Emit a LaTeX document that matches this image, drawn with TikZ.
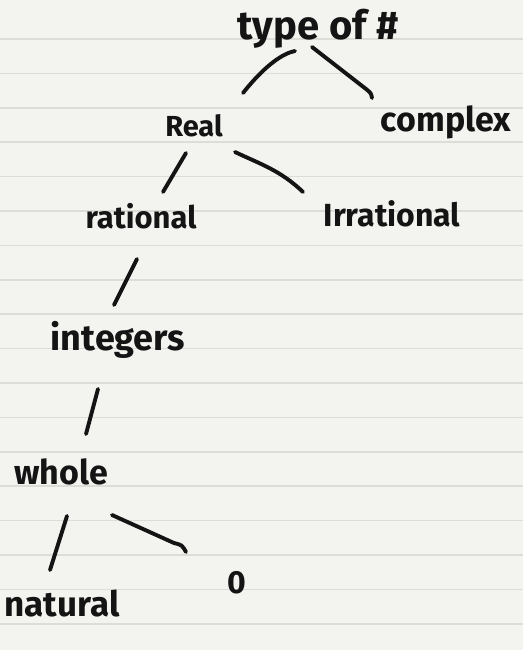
\documentclass[tikz,border=0pt]{standalone}
\usepackage{fontspec}
\setmainfont{Fira Sans}
\definecolor{paper}{HTML}{F3F3EF}
\definecolor{rule}{HTML}{DDDDD8}
\definecolor{ink}{HTML}{141414}
\newcommand{\fsz}[1]{\fontsize{#1}{#1}\selectfont\bfseries}
\tikzset{
  x=1pt, y=-1pt,
  word/.style={inner sep=0pt, text=ink},
  stroke/.style={draw=ink, line width=3.9pt, line cap=round, line join=round},
}
\begin{document}
\begin{tikzpicture}
\fill[paper] (0,0) rectangle (523,650);
\useasboundingbox (0,0) rectangle (523,650);
\foreach \i in {0,...,17} \draw[rule, line width=1.6pt] (0,39+34.4*\i) -- (523,39+34.4*\i);
% words
\node[word, font=\fsz{40}] (type) at (318,29) {type of \#};
\node[word, font=\fsz{29}] (real) at (194,126) {Real};
\node[word, font=\fsz{34}] (complex) at (446,122) {complex};
\node[word, font=\fsz{31}] (rational) at (141,216) {rational};
\node[word, font=\fsz{32}] (irrational) at (392,214) {Irrational};
\node[word, font=\fsz{36}] (integers) at (118,340) {integers};
\node[word, font=\fsz{34}] (whole) at (61,472) {whole};
\node[word, font=\fsz{32}] (zero) at (237,583) {0};
\node[word, font=\fsz{35}] (natural) at (62,604) {natural};
% stroke ends
\coordinate (t1) at (295,51); \coordinate (r1) at (243,93);
\coordinate (t2) at (312,47); \coordinate (c1) at (372,98);
\coordinate (r2) at (186,153); \coordinate (ra1) at (163,192);
\coordinate (r3) at (235,152); \coordinate (ir1) at (303,192);
\coordinate (ra2) at (137,259); \coordinate (in1) at (114,305);
\coordinate (in2) at (98,389); \coordinate (w1) at (86,434);
\coordinate (w2) at (67,516); \coordinate (n1) at (50,570);
\coordinate (w3) at (112,515); \coordinate (z1) at (186,552);
% strokes
\draw[stroke] (t1) .. controls (284,53) and (266,64) .. (r1);
\draw[stroke] (t2) -- (366,89) .. controls (371,93) .. (c1);
\draw[stroke] (r2) -- (ra1);
\draw[stroke] (r3) .. controls (260,164) and (280,170) .. (ir1);
\draw[stroke] (ra2) -- (in1);
\draw[stroke] (in2) -- (w1);
\draw[stroke] (w2) -- (n1);
\draw[stroke] (w3) -- (174,543) .. controls (182,545) .. (z1);
\end{tikzpicture}
\end{document}
